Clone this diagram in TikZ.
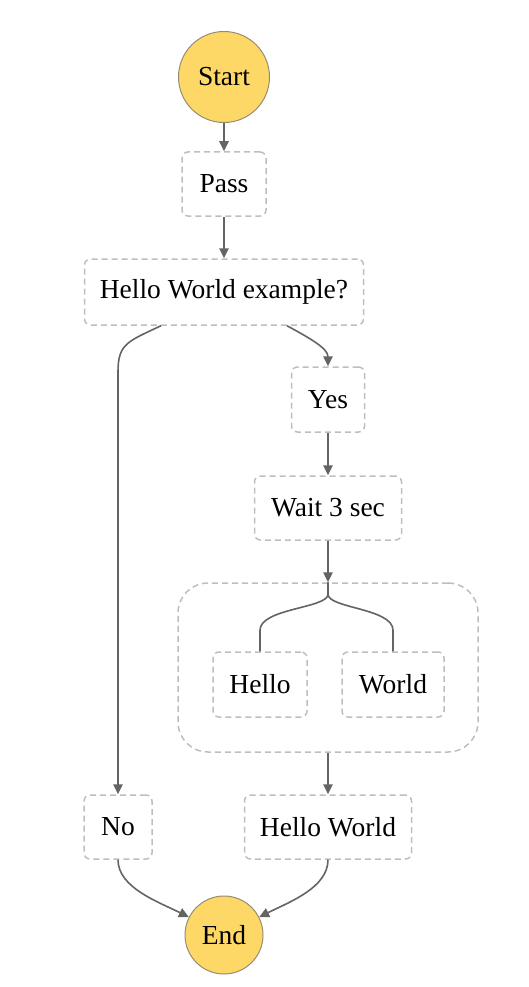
\documentclass[tikz,border=0pt]{standalone}
\usepackage{fontspec}
\setmainfont{Liberation Serif}
\usetikzlibrary{arrows.meta}
\definecolor{termfill}{RGB}{254,216,102}
\definecolor{termdraw}{RGB}{150,140,115}
\definecolor{boxdraw}{RGB}{190,190,190}
\definecolor{arrcol}{RGB}{100,100,100}
\tikzset{
  lbl/.style={font=\fontsize{27.5}{31}\selectfont, text=black},
  term/.style={lbl, circle, fill=termfill, draw=termdraw, line width=1pt, inner sep=0pt},
  statebox/.style={lbl, draw=boxdraw, line width=1.5pt, dash pattern=on 6pt off 4pt,
     rounded corners=6pt, inner sep=0pt, minimum height=64pt},
  parbox/.style={draw=boxdraw, line width=1.5pt, dash pattern=on 6pt off 4pt,
     rounded corners=30pt, inner sep=0pt},
  arr/.style={draw=arrcol, line width=1.6pt, -{Triangle[length=10pt,width=9.5pt]}},
  lin/.style={draw=arrcol, line width=1.6pt}
}
\begin{document}
\begin{tikzpicture}[x=1pt,y=-1pt]
\useasboundingbox (0,0) rectangle (528,987);
\node[term, minimum size=91pt] (start) at (224,77) {Start};
\node[statebox, minimum width=84pt] (pass) at (224,184) {Pass};
\node[statebox, minimum width=279pt, minimum height=66pt] (hwe) at (224,292) {Hello World example?};
\node[statebox, minimum width=73pt, minimum height=65pt] (yes) at (328,399.5) {Yes};
\node[statebox, minimum width=147pt] (wait) at (328,508) {Wait 3 sec};
\node[parbox, minimum width=300pt, minimum height=169pt] (par) at (328,667.5) {};
\node[statebox, minimum width=94pt, minimum height=65pt] (hello) at (260,684.5) {Hello};
\node[statebox, minimum width=102pt, minimum height=65pt] (world) at (393,684.5) {World};
\node[statebox, minimum width=68pt] (no) at (118,827) {No};
\node[statebox, minimum width=167pt] (hw) at (328,827) {Hello World};
\node[term, minimum size=78pt] (end) at (224,935) {End};
\coordinate (nobend) at (118,372);

\draw[arr] (start) -- (pass);
\draw[arr] (pass) -- (hwe);
\draw[arr] ([xshift=63pt]hwe.south) .. controls +(22,12) and +(0,-18) .. (yes.north);
\draw[lin] ([xshift=-63pt]hwe.south) .. controls +(-34,16) and +(0,-28) .. (nobend);
\draw[arr] (nobend) -- (no.north);
\draw[arr] (yes) -- (wait);
\draw[arr] (wait.south) -- (par.north);
\draw[lin] (par.north) -- ++(0,12) .. controls +(0,14) and +(0,-22) .. ++(-68,36) -- (hello.north);
\draw[lin] (par.north) -- ++(0,12) .. controls +(0,14) and +(0,-22) .. ++(65,36) -- (world.north);
\draw[arr] (par.south) -- (hw.north);
\draw[arr] (no.south) .. controls +(0,28) and +(-30,-15) .. (end.153);
\draw[arr] (hw.south) .. controls +(0,28) and +(30,-15) .. (end.27);
\end{tikzpicture}
\end{document}
